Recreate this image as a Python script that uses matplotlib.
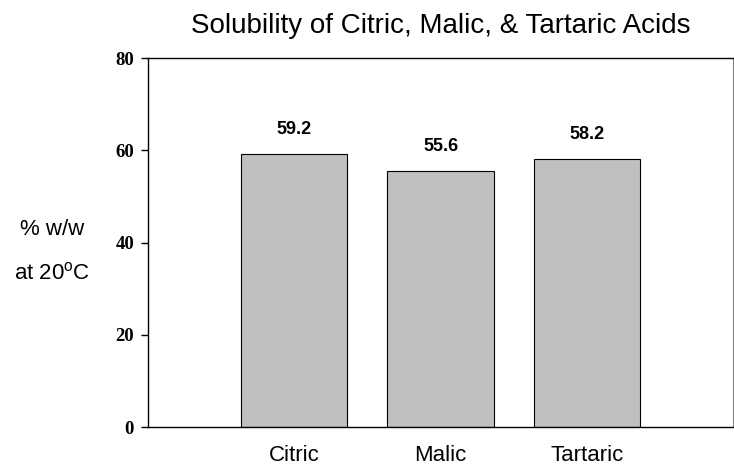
import matplotlib
matplotlib.use('Agg')
import matplotlib.pyplot as plt

categories = ['Citric', 'Malic', 'Tartaric']
positions = [1, 2, 3]
solubility = [59.2, 55.6, 58.2]
yticks = [0, 20, 40, 60, 80]

plt.rcParams['mathtext.fontset'] = 'custom'
plt.rcParams['mathtext.rm'] = 'Liberation Sans'

W, H = 734, 469
fig = plt.figure(figsize=(W / 100, H / 100), dpi=100)
ax = fig.add_axes([148 / W, (H - 427) / H, 585 / W, (427 - 58.3) / H])

ax.bar(positions, solubility, width=0.725, color='#C0C0C0',
       edgecolor='black', linewidth=0.8, zorder=2)

for x, v in zip(positions, solubility):
    ax.annotate(f'{v:.1f}', (x, v), xytext=(0, 14.4), textcoords='offset points',
                ha='center', va='baseline', fontsize=13, fontweight='bold',
                family='Liberation Sans')

ax.set_xlim(0, 4)
ax.set_ylim(0, 80)
ax.set_yticks(yticks)
ax.set_yticklabels([str(t) for t in yticks], family='Liberation Serif',
                   fontweight='bold', fontsize=13.5)
ax.set_xticks(positions)
ax.set_xticklabels(categories, family='Liberation Sans', fontsize=16)
ax.tick_params(axis='x', length=0, pad=13)
ax.tick_params(axis='y', direction='out', length=5, width=1, pad=5)

for s in ['left', 'bottom', 'top']:
    ax.spines[s].set_linewidth(1.0)
    ax.spines[s].set_color('black')
ax.spines['right'].set_color('#808080')
ax.spines['right'].set_linewidth(0.8)

ax.set_title('Solubility of Citric, Malic, & Tartaric Acids',
             family='Liberation Sans', fontsize=20, pad=18)

fig.text(52 / W, 1 - 229 / H, '% w/w', family='Liberation Sans', fontsize=16,
         ha='center', va='center')
fig.text(52.5 / W, 1 - 273 / H, 'at 20$^{\\rm o}$C', family='Liberation Sans',
         fontsize=16, ha='center', va='center')

fig.savefig('out.png', dpi=100)
